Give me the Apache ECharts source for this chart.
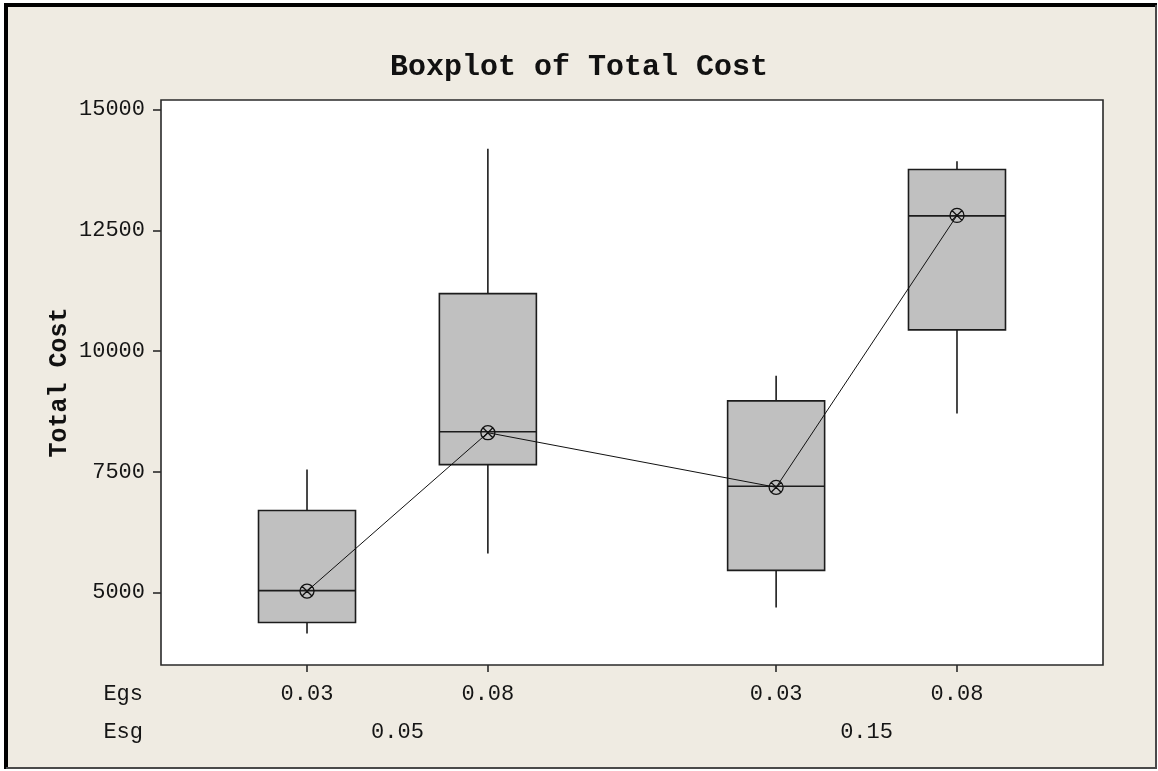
<!DOCTYPE html>
<html><head><meta charset="utf-8">
<script src="https://cdn.jsdelivr.net/npm/echarts@6/dist/echarts.min.js"></script>
<style>html,body{margin:0;padding:0;background:#fff}#c{width:1158px;height:771px}</style>
</head><body><div id="c"></div>
<script>
// ---- data ----
const esgLevels = ['0.05', '0.15'];
const egsLevels = ['0.03', '0.08'];
const yTicks = [5000, 7500, 10000, 12500, 15000];
// order: (Esg 0.05, Egs 0.03), (0.05, 0.08), (0.15, 0.03), (0.15, 0.08)
const whiskerLow  = [4150, 5810, 4690, 8710];
const q1          = [4380, 7650, 5460, 10440];
const medians     = [5040, 8330, 7200, 12800];
const q3          = [6700, 11190, 8970, 13760];
const whiskerHigh = [7550, 14190, 9490, 13930];
const means       = [5030, 8310, 7180, 12810];

// ---- layout (not data) ----
const X_MIN = 0, X_MAX = 10, FIRST = 1.55, GROUP_STEP = 4.98, LEVEL_STEP = 1.92;
const BOX_HALF = 48.5;
const positions = [], egsAt = [];
esgLevels.forEach((g, gi) => egsLevels.forEach((e, ei) => {
  positions.push(FIRST + gi * GROUP_STEP + ei * LEVEL_STEP);
  egsAt.push(e);
}));
const groupCenters = esgLevels.map((g, gi) => FIRST + gi * GROUP_STEP + LEVEL_STEP * (egsLevels.length - 1) / 2);
const pick = (arr, labels) => v => { const i = arr.findIndex(p => Math.abs(p - v) < 1e-3); return i >= 0 ? labels[i] : ''; };

const boxData = positions.map((p, i) => [p, whiskerLow[i], q1[i], medians[i], q3[i], whiskerHigh[i]]);
const meanData = positions.map((p, i) => [p, means[i]]);

const INK = '#1c1c1c';
const MONO = '"Liberation Mono", "DejaVu Sans Mono", monospace';

function renderBox(params, api) {
  const x = api.value(0);
  const lo = api.coord([x, api.value(1)]);
  const b1 = api.coord([x, api.value(2)]);
  const md = api.coord([x, api.value(3)]);
  const b3 = api.coord([x, api.value(4)]);
  const hi = api.coord([x, api.value(5)]);
  const cx = md[0];
  const ls = { stroke: INK, lineWidth: 1.6 };
  return {
    type: 'group',
    children: [
      { type: 'line', shape: { x1: cx, y1: hi[1], x2: cx, y2: b3[1] }, style: ls },
      { type: 'line', shape: { x1: cx, y1: b1[1], x2: cx, y2: lo[1] }, style: ls },
      { type: 'rect', shape: { x: cx - BOX_HALF, y: b3[1], width: BOX_HALF * 2, height: b1[1] - b3[1] },
        style: { fill: '#c0c0c0', stroke: INK, lineWidth: 1.6 } },
      { type: 'line', shape: { x1: cx - BOX_HALF, y1: md[1], x2: cx + BOX_HALF, y2: md[1] }, style: ls }
    ]
  };
}

const labelFont = { fontFamily: MONO, fontSize: 22, color: '#151515' };

const chart = echarts.init(document.getElementById('c'), null, { renderer: 'canvas' });
chart.setOption({
  animation: false,
  backgroundColor: '#efebe2',
  title: {
    text: 'Boxplot of Total Cost', left: 'center', top: 47,
    textStyle: { fontFamily: MONO, fontWeight: 'bold', fontSize: 30, color: '#111' }
  },
  grid: {
    left: 161, right: 55, top: 100, bottom: 106,
    show: true, backgroundColor: '#ffffff', borderColor: '#2a2a2a', borderWidth: 1.6
  },
  xAxis: [
    {
      type: 'value', min: X_MIN, max: X_MAX,
      axisLine: { show: false },
      splitLine: { show: false },
      axisTick: { show: true, length: 7, customValues: positions, lineStyle: { color: '#2a2a2a', width: 1.6 } },
      axisLabel: Object.assign({ customValues: positions, margin: 18, formatter: pick(positions, egsAt) }, labelFont),
      name: 'Egs', nameLocation: 'start', nameGap: 18,
      nameTextStyle: Object.assign({ align: 'right', verticalAlign: 'top', padding: [18, 0, 0, 0] }, labelFont)
    },
    {
      type: 'value', min: X_MIN, max: X_MAX, position: 'bottom', offset: 38,
      axisLine: { show: false },
      splitLine: { show: false },
      axisTick: { show: false },
      axisLabel: Object.assign({ customValues: groupCenters, margin: 18, formatter: pick(groupCenters, esgLevels) }, labelFont),
      name: 'Esg', nameLocation: 'start', nameGap: 18,
      nameTextStyle: Object.assign({ align: 'right', verticalAlign: 'top', padding: [18, 0, 0, 0] }, labelFont)
    }
  ],
  yAxis: {
    type: 'value', min: 3500, max: 15200,
    axisLine: { show: false },
    splitLine: { show: false },
    axisTick: { show: true, length: 8, customValues: yTicks, lineStyle: { color: '#2a2a2a', width: 1.6 } },
    axisLabel: Object.assign({ customValues: yTicks, margin: 16, formatter: v => String(v) }, labelFont),
    name: 'Total Cost', nameLocation: 'middle', nameGap: 89, nameRotate: 90, nameMoveOverlap: false,
    nameTextStyle: { fontFamily: MONO, fontWeight: 'bold', fontSize: 25, color: '#111' }
  },
  series: [
    {
      type: 'custom', xAxisIndex: 0, yAxisIndex: 0, renderItem: renderBox,
      data: boxData, encode: { x: 0, y: [1, 2, 3, 4, 5] }, z: 2, silent: true
    },
    {
      type: 'line', xAxisIndex: 0, yAxisIndex: 0, data: meanData, z: 3,
      symbol: 'path://M10,0 A10,10 0 1,1 9.99,0 Z M2.93,2.93 L17.07,17.07 M17.07,2.93 L2.93,17.07',
      symbolSize: 14, showSymbol: true,
      lineStyle: { color: '#111', width: 1 },
      itemStyle: { color: 'rgba(0,0,0,0)', borderColor: '#111', borderWidth: 1.3 },
      silent: true
    }
  ],
  graphic: [
    { type: 'rect', shape: { x: 0, y: 0, width: 1158, height: 3 }, style: { fill: '#fff' }, silent: true },
    { type: 'rect', shape: { x: 0, y: 0, width: 4, height: 771 }, style: { fill: '#fff' }, silent: true },
    { type: 'rect', shape: { x: 1157, y: 0, width: 1, height: 771 }, style: { fill: '#fff' }, silent: true },
    { type: 'rect', shape: { x: 0, y: 769, width: 1158, height: 2 }, style: { fill: '#fff' }, silent: true },
    { type: 'polyline', shape: { points: [[6, 769], [6, 5], [1157, 5]] }, style: { stroke: '#000', lineWidth: 4, fill: null }, silent: true },
    { type: 'polyline', shape: { points: [[1156, 5], [1156, 768], [6, 768]] }, style: { stroke: '#4a4a4a', lineWidth: 2, fill: null }, silent: true }
  ]
});
</script></body></html>
